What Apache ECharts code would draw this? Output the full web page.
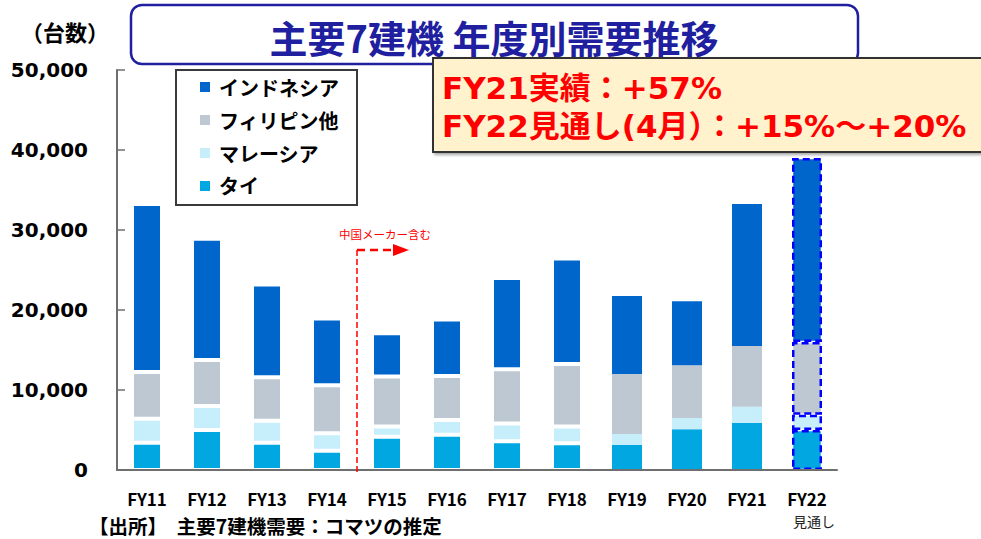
<!DOCTYPE html>
<html>
<head>
<meta charset="utf-8">
<script src="https://cdn.jsdelivr.net/npm/echarts@6/dist/echarts.min.js"></script>
<style>
  html, body { margin: 0; padding: 0; background: #ffffff; }
  #chart { width: 981px; height: 539px; }
</style>
</head>
<body>
<div id="chart"></div>
<script>
// Fiscal years on the horizontal axis (FY22 is the forecast)
const categories = ['FY11', 'FY12', 'FY13', 'FY14', 'FY15', 'FY16', 'FY17', 'FY18', 'FY19', 'FY20', 'FY21', 'FY22'];

// Annual demand (units) by country, stacked bottom to top
const thai        = [3400, 5000, 3400, 2400, 4150, 4400, 3600, 3350, 3150, 5100, 5900, 5000];
const malaysia    = [3000, 3000, 2750, 2200, 1300, 1850, 2200, 2100, 1350, 1400, 2000, 1900];
const philippines = [5850, 5750, 5450, 6000, 6250, 5500, 6800, 7800, 7500, 6600, 7600, 9100];
const indonesia   = [21000, 15150, 11600, 8350, 5400, 7050, 11400, 13200, 9750, 8000, 17750, 23000];

const seriesNames = ['タイ', 'マレーシア', 'フィリピン他', 'インドネシア'];
const legendOrder = ['インドネシア', 'フィリピン他', 'マレーシア', 'タイ'];

// Value axis range
const yMin = 0;
const yMax = 50000;
const yStep = 10000;

// Texts
const unitLabel = '（台数）';
const titleText = '主要7建機 年度別需要推移';
const noteLines = ['FY21実績：+57%', 'FY22見通し(4月）：+15%～+20%'];
const forecastNote = '見通し';
const changeNote = '中国メーカー含む';
const sourceText = '【出所】　主要7建機需要：コマツの推定';

const palette = {
  'タイ': '#00A7E0',
  'マレーシア': '#C7EEFB',
  'フィリピン他': '#BEC8D3',
  'インドネシア': '#0066CC'
};

const JP = "'Noto Sans CJK JP', sans-serif";
const LATIN = "'DejaVu Sans', 'Noto Sans CJK JP', sans-serif";

const forecastYear = 'FY22';
const forecastIndex = categories.indexOf(forecastYear);
const plainYears = ['FY19', 'FY20', 'FY21'];

// Wrap values with per-year outline styles
function toItems(values) {
  return values.map((v, i) => {
    if (i === forecastIndex) {
      return { value: v, itemStyle: { borderColor: '#0000FF', borderWidth: 2.5, borderType: [7, 4] } };
    }
    if (plainYears.includes(categories[i])) {
      return { value: v, itemStyle: { borderWidth: 0 } };
    }
    return { value: v, itemStyle: { borderColor: '#ffffff', borderWidth: 2 } };
  });
}

const valuesByName = {
  'タイ': thai,
  'マレーシア': malaysia,
  'フィリピン他': philippines,
  'インドネシア': indonesia
};

const chart = echarts.init(document.getElementById('chart'), null, { renderer: 'svg' });

const axisGray = '#6f6f6f';

chart.setOption({
  animation: false,
  backgroundColor: '#ffffff',
  grid: { left: 117, right: 144, top: 70, bottom: 69 },
  legend: {
    data: legendOrder,
    orient: 'vertical',
    left: 176,
    top: 70,
    itemWidth: 10,
    itemHeight: 10,
    itemGap: 13,
    icon: 'rect',
    padding: [7, 18, 9, 24],
    backgroundColor: '#ffffff',
    borderColor: '#3a3a3a',
    borderWidth: 2,
    selectedMode: false,
    textStyle: {
      fontFamily: JP,
      fontSize: 20,
      fontWeight: 'bold',
      color: '#000000',
      padding: [0, 0, 0, 4]
    }
  },
  xAxis: {
    type: 'category',
    data: categories,
    z: 5,
    axisLine: { lineStyle: { color: axisGray, width: 2 } },
    axisTick: { inside: true, length: 5, lineStyle: { color: axisGray, width: 1.5 } },
    axisLabel: {
      interval: 0,
      hideOverlap: false,
      margin: 20,
      fontFamily: JP,
      fontSize: 17,
      fontWeight: 'bold',
      color: '#000000',
      lineHeight: 17
    }
  },
  yAxis: {
    type: 'value',
    min: yMin,
    max: yMax,
    interval: yStep,
    splitLine: { show: false },
    axisLine: { show: true, lineStyle: { color: axisGray, width: 2 } },
    axisTick: { show: true, inside: true, length: 8, lineStyle: { color: axisGray, width: 1.5 } },
    axisLabel: {
      margin: 29,
      fontFamily: LATIN,
      fontSize: 20,
      fontWeight: 'bold',
      color: '#000000',
      formatter: (v) => v.toLocaleString('en-US')
    }
  },
  series: seriesNames.map((name) => ({
    name: name,
    type: 'bar',
    stack: 'total',
    barWidth: 30,
    color: palette[name],
    emphasis: { disabled: true },
    data: toItems(valuesByName[name])
  }))
});

// Annotation marking where the series starts to include Chinese makers
const xLeft = chart.convertToPixel({ xAxisIndex: 0 }, 'FY14');
const xRight = chart.convertToPixel({ xAxisIndex: 0 }, 'FY15');
const xSplit = (xLeft + xRight) / 2;
const yArrow = chart.convertToPixel({ yAxisIndex: 0 }, 27500);
const yBase = chart.convertToPixel({ yAxisIndex: 0 }, 0);
const xForecast = chart.convertToPixel({ xAxisIndex: 0 }, forecastYear);

chart.setOption({
  graphic: [
    // Unit caption
    {
      type: 'text', z: 10,
      style: { text: unitLabel, x: 65, y: 31, align: 'center', verticalAlign: 'middle',
               fontFamily: JP, fontSize: 22, fontWeight: 'bold', fill: '#000000' }
    },
    // Title frame and title
    {
      type: 'rect', z: 10,
      shape: { x: 131, y: 5, width: 727, height: 59, r: 11 },
      style: { fill: '#ffffff', stroke: '#1F1FA0', lineWidth: 2.5 }
    },
    {
      type: 'text', z: 11,
      style: { text: titleText, x: 494, y: 36, align: 'center', verticalAlign: 'middle',
               fontFamily: JP, fontSize: 38, fontWeight: 'bold', fill: '#1F1FA0' }
    },
    // Growth note box
    {
      type: 'rect', z: 12,
      shape: { x: 433, y: 58, width: 560, height: 94 },
      style: { fill: '#FFF2CC', stroke: '#333333', lineWidth: 2,
               shadowBlur: 3, shadowOffsetX: 2, shadowOffsetY: 2, shadowColor: 'rgba(0,0,0,0.35)' }
    },
    {
      type: 'text', z: 13,
      style: { text: noteLines[0], x: 442, y: 88, align: 'left', verticalAlign: 'middle',
               fontFamily: LATIN, fontSize: 31, fontWeight: 'bold', fill: '#FF0000' }
    },
    {
      type: 'text', z: 13,
      style: { text: noteLines[1], x: 442, y: 126, align: 'left', verticalAlign: 'middle',
               fontFamily: LATIN, fontSize: 31, fontWeight: 'bold', fill: '#FF0000' }
    },
    // Forecast marker under the last category label
    {
      type: 'text', z: 10,
      style: { text: forecastNote, x: xForecast + 7, y: 521, align: 'center', verticalAlign: 'middle',
               fontFamily: JP, fontSize: 14, fill: '#222222' }
    },
    // Red dashed divider with arrow
    {
      type: 'line', z: 9,
      shape: { x1: xSplit, y1: yArrow, x2: xSplit, y2: yBase + 5 },
      style: { stroke: '#FF0000', lineWidth: 1.5, lineDash: [6, 3] }
    },
    {
      type: 'line', z: 9,
      shape: { x1: xSplit, y1: yArrow, x2: xSplit + 37, y2: yArrow },
      style: { stroke: '#FF0000', lineWidth: 2.5, lineDash: [8, 5] }
    },
    {
      type: 'polygon', z: 9,
      shape: { points: [[xSplit + 36, yArrow - 6], [xSplit + 52, yArrow], [xSplit + 36, yArrow + 6]] },
      style: { fill: '#FF0000' }
    },
    {
      type: 'text', z: 9,
      style: { text: changeNote, x: xSplit + 28, y: yArrow - 16, align: 'center', verticalAlign: 'middle',
               fontFamily: JP, fontSize: 11.5, fill: '#FF0000' }
    },
    // Source line
    {
      type: 'text', z: 10,
      style: { text: sourceText, x: 89, y: 525, align: 'left', verticalAlign: 'middle',
               fontFamily: JP, fontSize: 19.5, fontWeight: 'bold', fill: '#000000' }
    }
  ]
});
</script>
</body>
</html>
